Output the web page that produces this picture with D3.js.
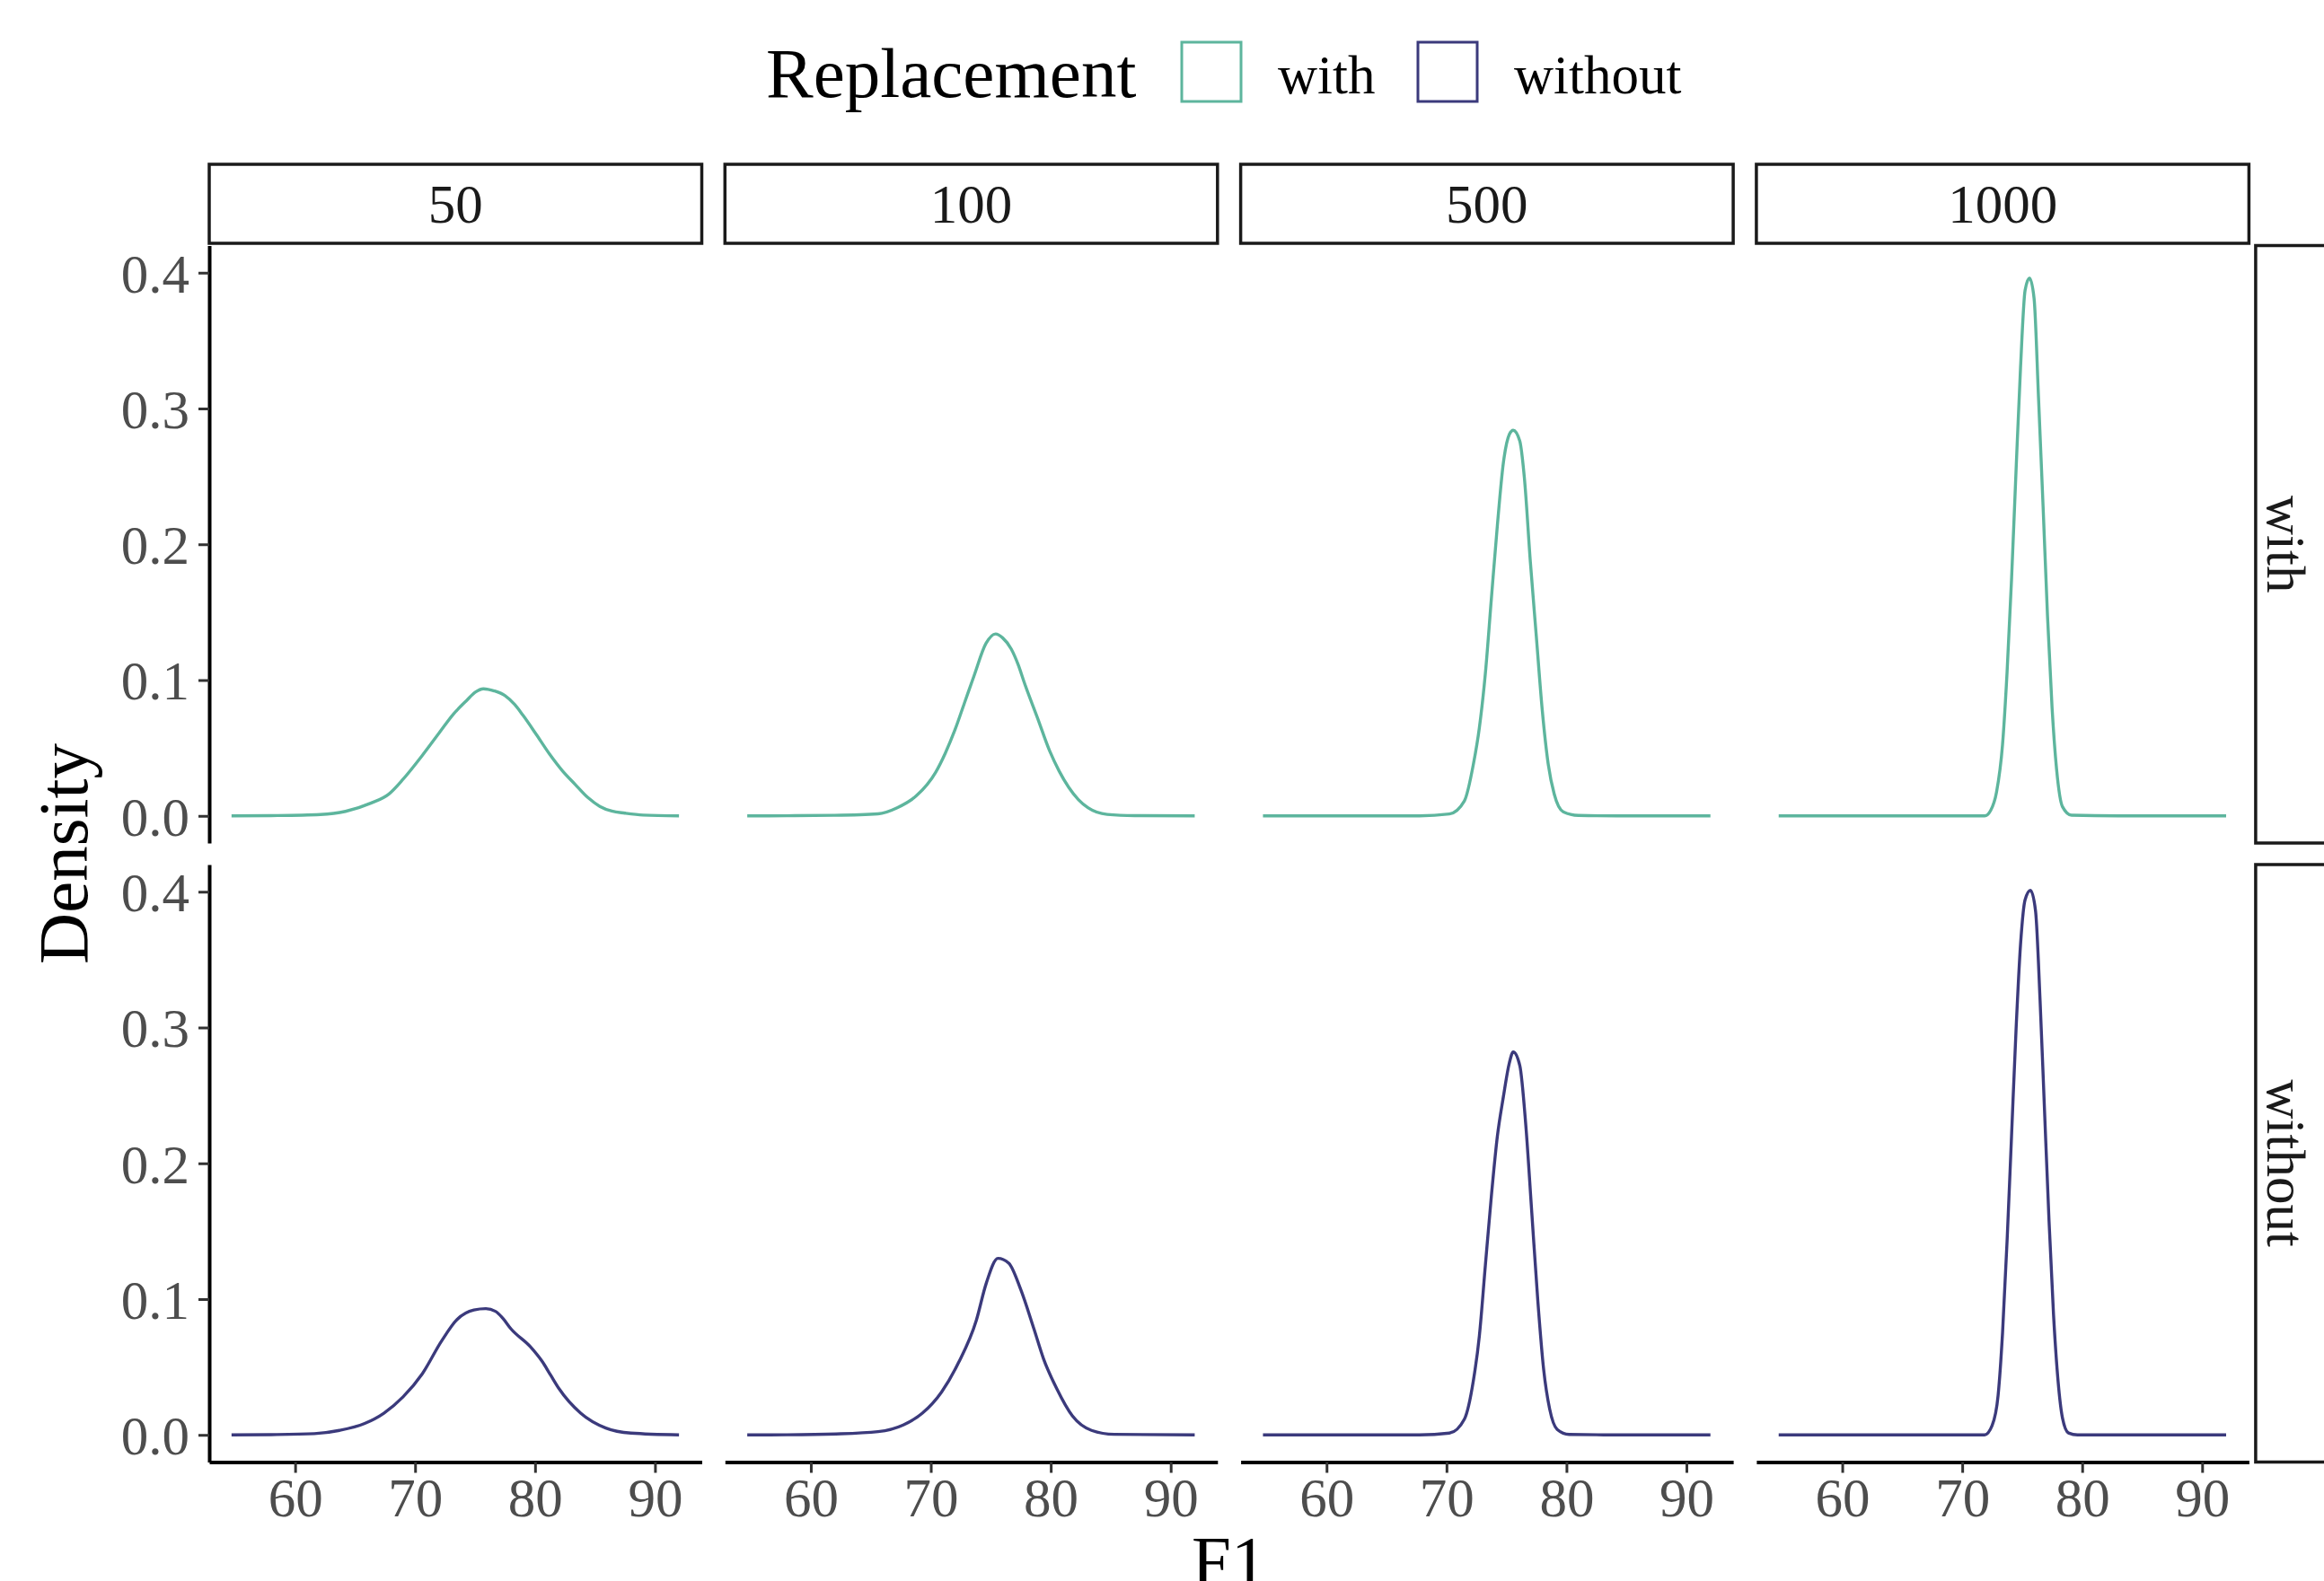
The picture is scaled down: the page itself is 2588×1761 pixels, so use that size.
<!DOCTYPE html>
<html>
<head>
<meta charset="utf-8">
<script src="https://cdn.jsdelivr.net/npm/d3@7"></script>
<style>
  body { margin: 0; background: #fff; }
  text { font-family: "Liberation Serif", "DejaVu Serif", serif; }
</style>
</head>
<body>
<div id="density-viz"></div>
<script>
// facets: sample size across, replacement down
const sampleSizes = ["50", "100", "500", "1000"];
const replacement = ["with", "without"];
const xTicks = [60, 70, 80, 90];
const yTicks = [0, 0.1, 0.2, 0.3, 0.4];

// [F1, density]
const with50 = [[54.7,0],[58,0.0002],[62.1,0.001],[64.2,0.0033],[66.3,0.0093],[67.8,0.016],[69.0,0.027],[70.6,0.0445],[72.0,0.061],[73.2,0.075],[74.3,0.085],[75.0,0.091],[75.7,0.0936],[76.6,0.092],[77.5,0.0885],[78.3,0.082],[79.0,0.074],[80.1,0.06],[81.2,0.0456],[82.3,0.033],[83.3,0.0236],[84.4,0.0135],[85.4,0.007],[86.4,0.0035],[87.5,0.002],[89,0.0006],[92.0,0]];
const with100 = [[54.7,0],[58,0.0001],[61.9,0.0004],[65.6,0.0015],[67.2,0.006],[68.8,0.0148],[70.4,0.032],[71.2,0.046],[72.0,0.063],[72.8,0.083],[73.6,0.103],[74.6,0.127],[75.4,0.134],[76.0,0.131],[76.7,0.123],[77.3,0.111],[77.8,0.098],[78.9,0.072],[79.9,0.048],[80.7,0.033],[81.5,0.021],[82.3,0.012],[83.1,0.006],[84.7,0.0011],[87,0.0002],[92,0]];
const with500 = [[54.7,0],[62,0],[67.75,0],[70.24,0.0014],[71.49,0.011],[72.24,0.038],[72.74,0.065],[73.24,0.105],[73.74,0.16],[74.24,0.214],[74.74,0.26],[75.24,0.281],[75.56,0.284],[76.11,0.276],[76.49,0.249],[76.99,0.187],[77.48,0.133],[77.98,0.078],[78.48,0.038],[78.98,0.016],[79.73,0.003],[81,0.0003],[84.2,0],[92,0]];
const with1000 = [[54.7,0],[68,0],[71.87,0],[72.37,0.004],[72.86,0.0175],[73.36,0.0525],[73.74,0.106],[74.11,0.174],[74.49,0.255],[74.86,0.33],[75.24,0.387],[75.61,0.396],[75.99,0.381],[76.36,0.308],[76.74,0.228],[77.11,0.147],[77.49,0.0795],[77.87,0.034],[78.36,0.0067],[79.11,0.0005],[83,0],[92,0]];

const without50 = [[54.7,0],[58,0.0002],[61.6,0.0009],[63.7,0.0033],[65.8,0.0084],[67.4,0.016],[69.0,0.028],[70.6,0.045],[72.2,0.069],[73.5,0.085],[74.9,0.092],[75.9,0.093],[76.7,0.091],[77.3,0.086],[78.0,0.078],[79.6,0.065],[80.6,0.054],[81.3,0.044],[82.0,0.034],[83.8,0.016],[85.9,0.005],[88.0,0.0013],[92,0]];
const without100 = [[54.7,0],[58,0.0001],[62.1,0.0007],[65.6,0.0024],[67.7,0.0073],[69.3,0.016],[70.9,0.0316],[72.3,0.053],[73.8,0.0845],[74.6,0.111],[75.6,0.13],[76.5,0.1265],[77.5,0.107],[78.6,0.078],[79.4,0.056],[80.5,0.034],[81.8,0.014],[83.4,0.0033],[85.3,0.0004],[92,0]];
const without500 = [[54.7,0],[67.75,0],[70.24,0.0013],[71.49,0.0116],[72.24,0.04],[72.74,0.073],[73.24,0.125],[73.74,0.176],[74.24,0.22],[74.74,0.249],[75.24,0.274],[75.56,0.282],[76.11,0.272],[76.61,0.228],[77.11,0.1635],[77.61,0.099],[78.1,0.048],[78.6,0.019],[79.23,0.004],[80.22,0.0003],[84.2,0],[92,0]];
const without1000 = [[54.7,0],[71.87,0],[72.49,0.0068],[72.99,0.029],[73.36,0.075],[73.74,0.143],[74.11,0.22],[74.49,0.299],[74.86,0.361],[75.24,0.394],[75.69,0.401],[76.11,0.386],[76.49,0.32],[76.86,0.239],[77.24,0.157],[77.61,0.0887],[77.99,0.0396],[78.36,0.0123],[78.86,0.0014],[79.61,0],[92,0]];

const curves = {
    with: [with50, with100, with500, with1000],
    without: [without50, without100, without500, without1000]
};
const colors = {with: "#5db59d", without: "#3b3a7c"};

// layout
const width = 2588, height = 1761;
const panel = {left: 233, top: 273.5, width: 548.5, height: 665.5, gapX: 25.8, gapY: 24};
const stripSize = 88;
const smallFont = 61, titleFont = 79;

const svg = d3.select("#density-viz")
    .append("svg")
    .attr("width", width)
    .attr("height", height)
    .style("display", "block");

const x = d3.scaleLinear().domain([52.84, 93.9]).range([0, panel.width]);
const y = d3.scaleLinear().domain([-0.02, 0.42]).range([panel.height, 0]);

const line = d3.line()
    .x(d => x(d[0]))
    .y(d => y(d[1]))
    .curve(d3.curveMonotoneX);

const styleAxis = g => {
    g.attr("font-family", null).attr("font-size", smallFont);
    g.select(".domain").attr("stroke", "#000").attr("stroke-width", 4);
    g.selectAll(".tick line").attr("stroke", "#333").attr("stroke-width", 3);
    g.selectAll(".tick text").attr("fill", "#4d4d4d");
};

replacement.forEach((rep, j) => {
    const top = panel.top + j * (panel.height + panel.gapY);

    sampleSizes.forEach((size, i) => {
        const left = panel.left + i * (panel.width + panel.gapX);
        const body = svg.append("g")
            .attr("transform", "translate(" + left + "," + top + ")");

        body.append("path")
            .datum(curves[rep][i])
            .attr("d", line)
            .attr("fill", "none")
            .attr("stroke", colors[rep])
            .attr("stroke-width", 3.4)
            .attr("stroke-linejoin", "round");

        // left axis only on first column
        if (i === 0) {
            body.append("g")
                .call(d3.axisLeft(y).tickValues(yTicks).tickFormat(d3.format(".1f"))
                    .tickSize(12).tickSizeOuter(0).tickPadding(10))
                .call(styleAxis)
                .selectAll(".tick text").attr("dy", "0.35em");
        }

        // bottom axis only on last row
        if (j === replacement.length - 1) {
            body.append("g")
                .attr("transform", "translate(0," + panel.height + ")")
                .call(d3.axisBottom(x).tickValues(xTicks).tickSize(12).tickSizeOuter(0).tickPadding(6))
                .call(styleAxis)
                .selectAll(".tick text").attr("dy", "0.7em");
        }

        // column strips on top row
        if (j === 0) {
            body.append("rect")
                .attr("x", 0)
                .attr("y", -stripSize - 2.5)
                .attr("width", panel.width)
                .attr("height", stripSize)
                .attr("fill", "#fff")
                .attr("stroke", "#1a1a1a")
                .attr("stroke-width", 3.5);
            body.append("text")
                .attr("x", panel.width / 2)
                .attr("y", -stripSize / 2 - 2.5)
                .attr("dy", "0.35em")
                .attr("text-anchor", "middle")
                .attr("font-size", smallFont)
                .attr("fill", "#1a1a1a")
                .text(size);
        }
    });

    // row strip on the right
    const stripX = panel.left + 4 * panel.width + 3 * panel.gapX + 7.5;
    svg.append("rect")
        .attr("x", stripX)
        .attr("y", top)
        .attr("width", stripSize)
        .attr("height", panel.height)
        .attr("fill", "#fff")
        .attr("stroke", "#1a1a1a")
        .attr("stroke-width", 3.5);
    svg.append("text")
        .attr("transform", "translate(" + (stripX + 34) + "," + (top + panel.height / 2) + ") rotate(90)")
        .attr("dy", "0.35em")
        .attr("text-anchor", "middle")
        .attr("font-size", smallFont)
        .attr("fill", "#1a1a1a")
        .text(rep);
});

// axis titles
const panelsRight = panel.left + 4 * panel.width + 3 * panel.gapX;
svg.append("text")
    .attr("x", (panel.left + panelsRight) / 2)
    .attr("y", 1765)
    .attr("text-anchor", "middle")
    .attr("font-size", titleFont)
    .text("F1");

svg.append("text")
    .attr("transform", "translate(97," + (panel.top + panel.height + panel.gapY / 2) + ") rotate(-90)")
    .attr("text-anchor", "middle")
    .attr("font-size", titleFont)
    .text("Density");

// legend
const legend = svg.append("g");
legend.append("text")
    .attr("x", 853)
    .attr("y", 108)
    .attr("font-size", titleFont)
    .text("Replacement");

const keyX = [1316, 1579];
replacement.forEach((rep, k) => {
    legend.append("rect")
        .attr("x", keyX[k])
        .attr("y", 47)
        .attr("width", 66)
        .attr("height", 66)
        .attr("fill", "#fff")
        .attr("stroke", colors[rep])
        .attr("stroke-width", 3);
    legend.append("text")
        .attr("x", keyX[k] + 107)
        .attr("y", 104)
        .attr("font-size", smallFont)
        .text(rep);
});
</script>
</body>
</html>
